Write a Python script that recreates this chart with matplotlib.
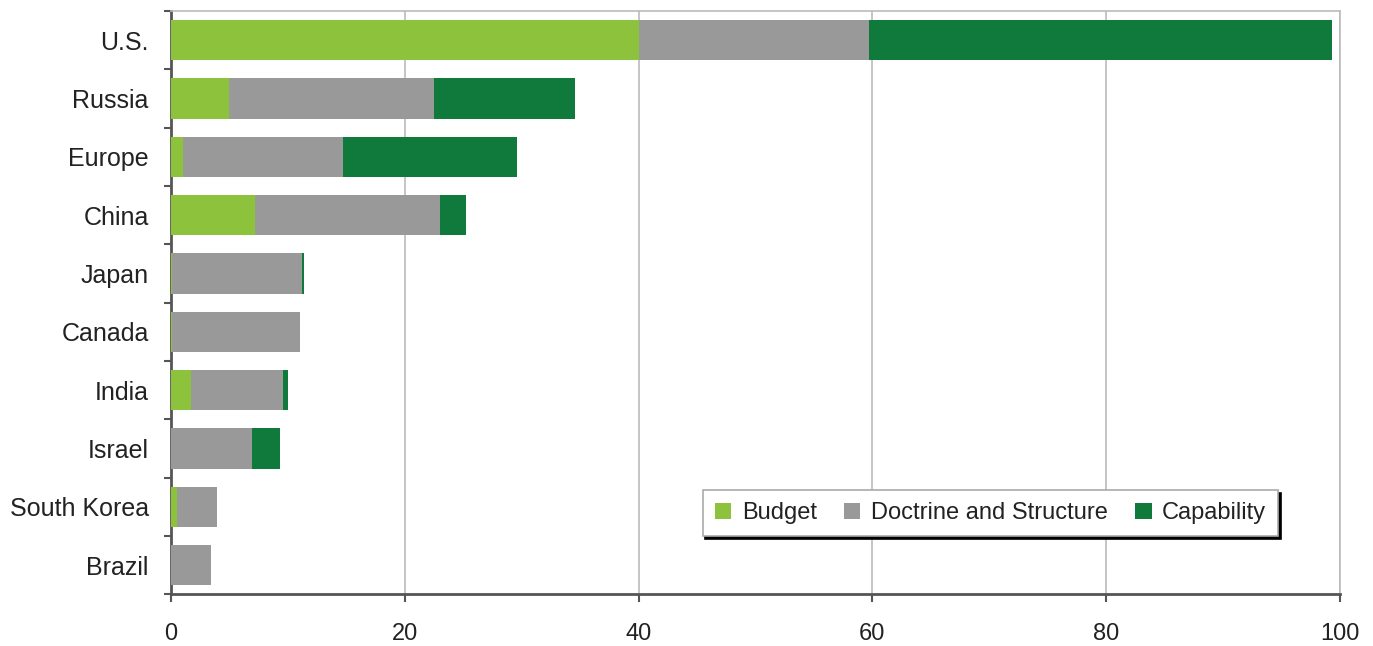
import matplotlib
matplotlib.use("Agg")
import matplotlib.pyplot as plt
import numpy as np

plt.rcParams['font.family'] = ['Liberation Sans', 'DejaVu Sans']

countries = ["U.S.", "Russia", "Europe", "China", "Japan", "Canada", "India",
             "Israel", "South Korea", "Brazil"]
budget = [40.0, 5.0, 1.0, 7.2, 0.1, 0.1, 1.7, 0.0, 0.5, 0.0]
doctrine = [19.7, 17.5, 13.7, 15.8, 11.1, 10.9, 7.9, 6.9, 3.4, 3.4]
capability = [39.6, 12.1, 14.9, 2.2, 0.2, 0.0, 0.4, 2.4, 0.0, 0.0]
series_names = ["Budget", "Doctrine and Structure", "Capability"]
colors = ["#8DC23C", "#999999", "#0F7A3C"]
xticks = [0, 20, 40, 60, 80, 100]

fig = plt.figure(figsize=(13.73, 6.46), dpi=100)
ax = fig.add_axes([0.1245, 0.080, 0.8515, 0.903])

y = np.arange(len(countries))
left = np.zeros(len(countries))
for vals, name, c in zip([budget, doctrine, capability], series_names, colors):
    ax.barh(y, vals, left=left, height=0.69, color=c, label=name, zorder=3)
    left = left + np.array(vals)

ax.set_xlim(0, 100)
ax.set_ylim(len(countries) - 0.5, -0.5)
ax.set_xticks(xticks)
ax.set_xticklabels([str(t) for t in xticks], fontsize=17, color="#222222")
ax.set_yticks(y)
ax.set_yticklabels(countries, fontsize=18, color="#222222")
ax.tick_params(axis='y', length=0, pad=16)
ax.set_yticks(np.arange(-0.5, len(countries), 1), minor=True)
ax.tick_params(axis='y', which='minor', length=5, width=1.5, color="#555555", direction='out')
ax.tick_params(axis='x', length=6, width=1.5, color="#555555", pad=14.5, direction='out')

ax.grid(axis='x', color="#BBBBBB", linewidth=1.2, zorder=0)
for s in ['top', 'right']:
    ax.spines[s].set_color("#BBBBBB")
    ax.spines[s].set_linewidth(1.2)
for s in ['left', 'bottom']:
    ax.spines[s].set_color("#555555")
    ax.spines[s].set_linewidth(2)

leg = ax.legend(loc='lower right', bbox_to_anchor=(0.947, 0.100), ncol=3, frameon=True,
                fancybox=False, shadow={'color': 'black', 'alpha': 1.0},
                fontsize=17, handlelength=0.7, handleheight=0.7, handletextpad=0.45,
                columnspacing=1.15, borderpad=0.5, borderaxespad=0)
leg.get_frame().set_edgecolor("#AAAAAA")
leg.get_frame().set_linewidth(1.2)
for t in leg.get_texts():
    t.set_color("#222222")

fig.savefig("out.png", dpi=100)
